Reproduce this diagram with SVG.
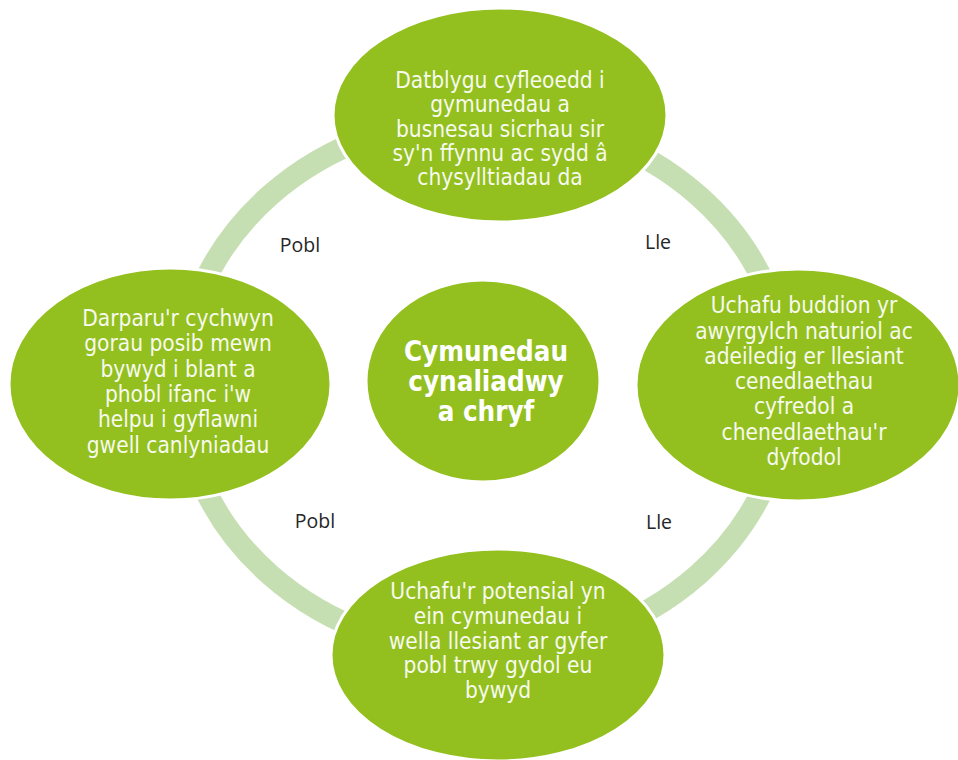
<svg xmlns="http://www.w3.org/2000/svg" width="958" height="760" viewBox="0 0 958 760">
<style>
.node{fill:#93c01f;stroke:#ffffff;stroke-width:3}
.t{font-family:"DejaVu Sans Condensed","DejaVu Sans",sans-serif;font-stretch:condensed;font-size:22.5px;fill:#f7faee;text-anchor:middle}
.c{font-family:"DejaVu Sans Condensed","DejaVu Sans",sans-serif;font-stretch:condensed;font-size:27.5px;font-weight:bold;fill:#ffffff;text-anchor:middle}
.lbl{font-family:"Open Sans","Liberation Sans",sans-serif;font-size:19.5px;fill:#262626;text-anchor:middle}
.ring{fill:none;stroke:#c6dfb2;stroke-width:22}
</style>
<rect width="958" height="760" fill="#ffffff"/>
<g id="connectors">
<ellipse class="ring" cx="484" cy="385" rx="303" ry="268"/>
<text class="lbl" x="300" y="252">Pobl</text>
<text class="lbl" x="658" y="249">Lle</text>
<text class="lbl" x="315" y="528">Pobl</text>
<text class="lbl" x="659" y="529">Lle</text>
</g>
<g id="node-top">
<ellipse class="node" cx="500" cy="115" rx="167" ry="107"/>
<text class="t" x="500" y="88">Datblygu cyfleoedd i</text>
<text class="t" x="500" y="112">gymunedau a</text>
<text class="t" x="500" y="137">busnesau sicrhau sir</text>
<text class="t" x="500" y="161">sy'n ffynnu ac sydd â</text>
<text class="t" x="500" y="185">chysylltiadau da</text>
</g>
<g id="node-left">
<ellipse class="node" cx="170" cy="384" rx="161" ry="116"/>
<text class="t" x="178" y="326">Darparu'r cychwyn</text>
<text class="t" x="178" y="351">gorau posib mewn</text>
<text class="t" x="178" y="377">bywyd i blant a</text>
<text class="t" x="178" y="402">phobl ifanc i'w</text>
<text class="t" x="178" y="427">helpu i gyflawni</text>
<text class="t" x="178" y="453">gwell canlyniadau</text>
</g>
<g id="node-right">
<ellipse class="node" cx="798" cy="385" rx="162" ry="116"/>
<text class="t" x="804" y="313">Uchafu buddion yr</text>
<text class="t" x="804" y="339">awyrgylch naturiol ac</text>
<text class="t" x="804" y="364">adeiledig er llesiant</text>
<text class="t" x="804" y="389">cenedlaethau</text>
<text class="t" x="804" y="414">cyfredol a</text>
<text class="t" x="804" y="440">chenedlaethau'r</text>
<text class="t" x="804" y="465">dyfodol</text>
</g>
<g id="node-bottom">
<ellipse class="node" cx="498" cy="655" rx="167" ry="106"/>
<text class="t" x="498" y="599">Uchafu'r potensial yn</text>
<text class="t" x="498" y="624">ein cymunedau i</text>
<text class="t" x="498" y="649">wella llesiant ar gyfer</text>
<text class="t" x="498" y="673">pobl trwy gydol eu</text>
<text class="t" x="498" y="698">bywyd</text>
</g>
<g id="node-center">
<ellipse class="node" cx="483" cy="381" rx="117" ry="101"/>
<text class="c" x="486" y="361">Cymunedau</text>
<text class="c" x="486" y="391">cynaliadwy</text>
<text class="c" x="486" y="421">a chryf</text>
</g>
</svg>
